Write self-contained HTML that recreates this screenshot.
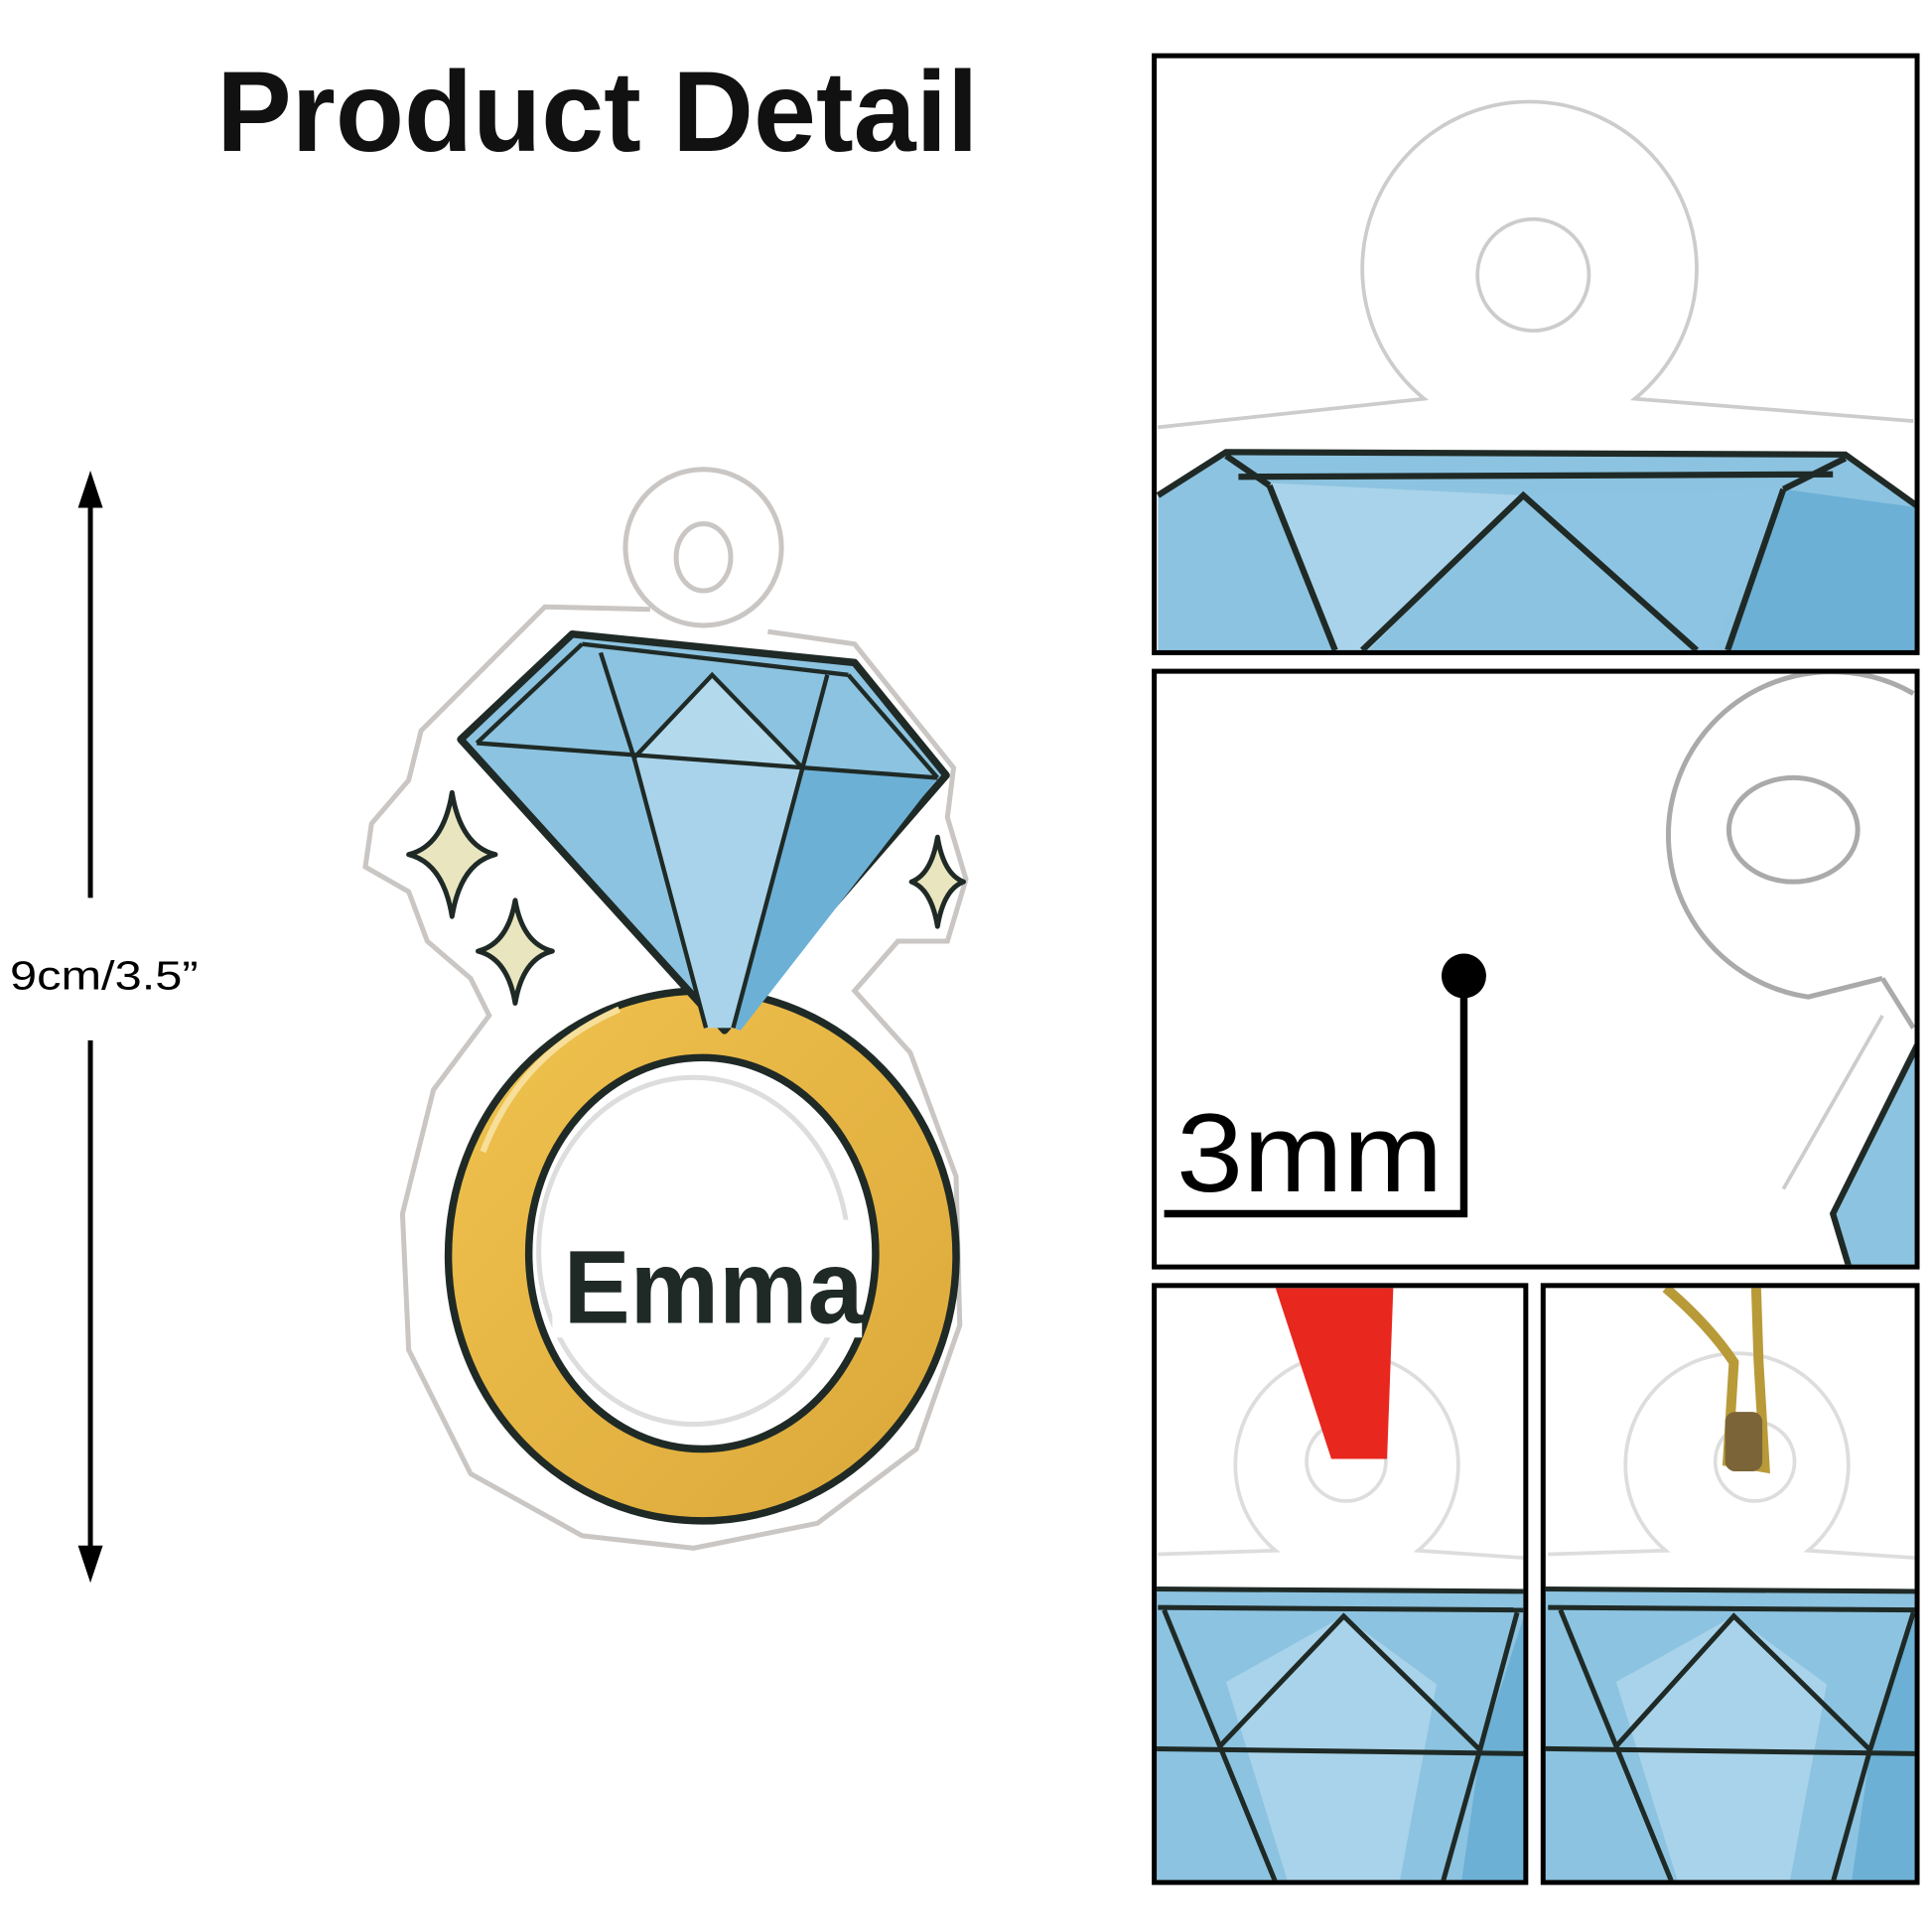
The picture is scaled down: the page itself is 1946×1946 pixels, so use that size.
<!DOCTYPE html>
<html><head><meta charset="utf-8"><style>
html,body{margin:0;padding:0;background:#fff;}
svg{display:block;}
</style></head><body>
<svg width="1946" height="1946" viewBox="0 0 1560 1560" xmlns="http://www.w3.org/2000/svg">
<defs>
<linearGradient id="gold" x1="0" y1="0" x2="1" y2="1"><stop offset="0" stop-color="#f0c24e"/><stop offset="1" stop-color="#dba83a"/></linearGradient>
<clipPath id="c1"><rect x="934" y="47" width="612" height="478"/></clipPath>
<clipPath id="c2"><rect x="934" y="544" width="612" height="477"/></clipPath>
<clipPath id="c3"><rect x="934" y="1040" width="296" height="478"/></clipPath>
<clipPath id="c4"><rect x="1248" y="1040" width="298" height="478"/></clipPath>
</defs>
<rect width="1560" height="1560" fill="#fff"/>

<text x="175" y="122" font-family="Liberation Sans, sans-serif" font-size="92" font-weight="bold" fill="#111" textLength="615" lengthAdjust="spacingAndGlyphs">Product Detail</text>

<line x1="73" y1="395" x2="73" y2="725" stroke="#000" stroke-width="4"/>
<line x1="73" y1="840" x2="73" y2="1262" stroke="#000" stroke-width="4"/>
<polygon points="73,380 63,410 83,410" fill="#000"/>
<polygon points="73,1278 63,1248 83,1248" fill="#000"/>
<text x="8" y="799" font-family="Liberation Sans, sans-serif" font-size="33" fill="#000" textLength="152" lengthAdjust="spacingAndGlyphs">9cm/3.5”</text>

<g fill="none" stroke="#c9c6c4" stroke-width="4">
<circle cx="568" cy="442" r="63"/>
<ellipse cx="568" cy="450" rx="22" ry="27"/>
<path d="M525,492 L440,490 L340,590 L330,630 L300,665 L295,700 L330,720 L345,760 L380,790 L395,820 L350,880 L325,980 L330,1090 L380,1190 L470,1240 L560,1250 L660,1230 L740,1170 L775,1070 L772,950 L735,850 L690,800 L725,760 L765,760 L780,710 L765,660 L770,620 L690,520 L620,510"/>
</g>

<g fill="#e9e5bf" stroke="#1f2a26" stroke-width="4" stroke-linejoin="round">
<path d="M365,640 Q372,683 400,690 Q372,697 365,740 Q358,697 330,690 Q358,683 365,640Z"/>
<path d="M416,727 Q422,762 446,768 Q422,774 416,810 Q410,774 386,768 Q410,762 416,727Z"/>
<path d="M757,676 Q762,706 778,712 Q762,718 757,748 Q752,718 736,712 Q752,706 757,676Z"/>
</g>

<ellipse cx="567" cy="1014" rx="205" ry="214" fill="url(#gold)" stroke="#1f2a26" stroke-width="6"/>
<ellipse cx="567" cy="1012" rx="140" ry="158" fill="#fff" stroke="#1f2a26" stroke-width="6"/>
<ellipse cx="560" cy="1010" rx="125" ry="140" fill="none" stroke="#ddd" stroke-width="4"/>
<path d="M390,930 Q420,850 500,815" fill="none" stroke="#f7df9a" stroke-width="5"/>

<polygon points="462,512 690,535 764,626 585,832 372,597" fill="#8cc3e0" stroke="#1f2a26" stroke-width="6" stroke-linejoin="round"/>
<polygon points="512,612 575,545 648,620" fill="#b3d9ec"/>
<polygon points="512,612 648,620 592,830 570,830" fill="#a9d3ea"/>
<polygon points="648,620 757,628 598,832 592,830" fill="#6cb0d6"/>
<g fill="none" stroke="#1f2a26" stroke-width="3.5">
<path d="M470,520 L685,545"/>
<path d="M385,600 L757,628"/>
<path d="M485,527 L512,612 L575,545 L648,620 L668,545"/>
<path d="M512,612 L570,830"/>
<path d="M648,620 L592,830"/>
<path d="M385,600 L470,520"/>
<path d="M757,628 L685,545"/>
</g>

<rect x="446" y="985" width="250" height="95" fill="#fff"/>
<text x="455" y="1068" font-family="Liberation Sans, sans-serif" font-size="84" font-weight="bold" fill="#1f2a26" textLength="242" lengthAdjust="spacingAndGlyphs">Emma</text>

<g clip-path="url(#c1)">
<path d="M935,345 L1150,322 A135,135 0 1 1 1320,322 L1545,340" fill="none" stroke="#ccc" stroke-width="3"/>
<circle cx="1238" cy="222" r="45" fill="none" stroke="#ccc" stroke-width="3"/>
<polygon points="935,400 990,365 1490,367 1550,410 1550,530 935,530" fill="#8cc3e0"/>
<polygon points="1025,390 1230,400 1100,530 1080,530" fill="#a9d3ea"/>
<polygon points="1230,400 1440,395 1380,530 1370,530" fill="#8ec4e3"/>
<polygon points="1440,395 1550,410 1550,530 1395,530" fill="#6cb0d6"/>
<g fill="none" stroke="#1f2a26" stroke-width="5">
<path d="M935,400 L990,365 L1490,367 L1550,410"/>
<path d="M1000,385 L1480,383"/>
<path d="M1025,392 L1078,525"/>
<path d="M1100,525 L1230,400 L1370,525"/>
<path d="M1440,395 L1395,525"/>
<path d="M990,368 L1025,392 M1490,370 L1440,395"/>
</g>
</g>
<rect x="932" y="45" width="616" height="482" fill="none" stroke="#000" stroke-width="4"/>

<g clip-path="url(#c2)">
<path d="M1520,790 L1460,805 A132,132 0 1 1 1545,560" fill="none" stroke="#aaa" stroke-width="4"/>
<path d="M1520,790 L1545,830" fill="none" stroke="#aaa" stroke-width="4"/>
<ellipse cx="1448" cy="670" rx="52" ry="42" fill="none" stroke="#aaa" stroke-width="4"/>
<polygon points="1550,840 1480,980 1495,1030 1550,1030" fill="#8cc3e0" stroke="#1f2a26" stroke-width="5"/>
<path d="M1440,960 L1520,820" fill="none" stroke="#ccc" stroke-width="3"/>
</g>
<circle cx="1182" cy="788" r="18" fill="#000"/>
<path d="M1182,788 L1182,980 L940,980" fill="none" stroke="#000" stroke-width="6"/>
<text x="950" y="962" font-family="Liberation Sans, sans-serif" font-size="90" fill="#000" textLength="215" lengthAdjust="spacingAndGlyphs">3mm</text>
<rect x="932" y="542" width="616" height="481" fill="none" stroke="#000" stroke-width="4"/>

<g clip-path="url(#c3)">
<path d="M935,1255 L1030,1252 A90,90 0 1 1 1145,1252 L1232,1258" fill="none" stroke="#ddd" stroke-width="3"/>
<circle cx="1087" cy="1180" r="32" fill="none" stroke="#ddd" stroke-width="3"/>
<polygon points="930,1283 1232,1285 1232,1520 930,1520" fill="#8cc3e0"/>
<polygon points="990,1358 1085,1305 1160,1360 1130,1520 1040,1520" fill="#a9d3ea"/>
<polygon points="1195,1415 1232,1300 1232,1520 1180,1520" fill="#6cb0d6"/>
<g fill="none" stroke="#1f2a26" stroke-width="4">
<path d="M930,1283 L1232,1285"/>
<path d="M935,1298 L1230,1300"/>
<path d="M940,1300 L985,1410 L1030,1520"/>
<path d="M985,1410 L1085,1305 L1195,1413"/>
<path d="M930,1412 L1232,1416"/>
<path d="M1225,1302 L1195,1413 L1165,1520"/>
</g>
<path d="M1030,1040 L1075,1178 L1120,1178 L1125,1040 Z" fill="#e8271f"/>
</g>
<rect x="932" y="1038" width="300" height="482" fill="none" stroke="#000" stroke-width="4"/>

<g clip-path="url(#c4)">
<path d="M1250,1255 L1345,1252 A90,90 0 1 1 1460,1252 L1548,1258" fill="none" stroke="#ddd" stroke-width="3"/>
<circle cx="1417" cy="1180" r="32" fill="none" stroke="#ddd" stroke-width="3"/>
<polygon points="1246,1283 1548,1285 1548,1520 1246,1520" fill="#8cc3e0"/>
<polygon points="1305,1358 1400,1305 1475,1360 1445,1520 1355,1520" fill="#a9d3ea"/>
<polygon points="1510,1415 1548,1300 1548,1520 1495,1520" fill="#6cb0d6"/>
<g fill="none" stroke="#1f2a26" stroke-width="4">
<path d="M1246,1283 L1548,1285"/>
<path d="M1250,1298 L1546,1300"/>
<path d="M1260,1300 L1305,1410 L1350,1520"/>
<path d="M1305,1410 L1400,1305 L1510,1413"/>
<path d="M1246,1412 L1548,1416"/>
<path d="M1545,1302 L1510,1413 L1480,1520"/>
</g>
<path d="M1345,1040 Q1380,1070 1400,1100 L1395,1180 L1425,1185 L1420,1100 L1418,1040" fill="none" stroke="#b89a38" stroke-width="8"/>
<rect x="1393" y="1140" width="30" height="48" rx="8" fill="#7a6438"/>
</g>
<rect x="1246" y="1038" width="302" height="482" fill="none" stroke="#000" stroke-width="4"/>
</svg>
</body></html>
